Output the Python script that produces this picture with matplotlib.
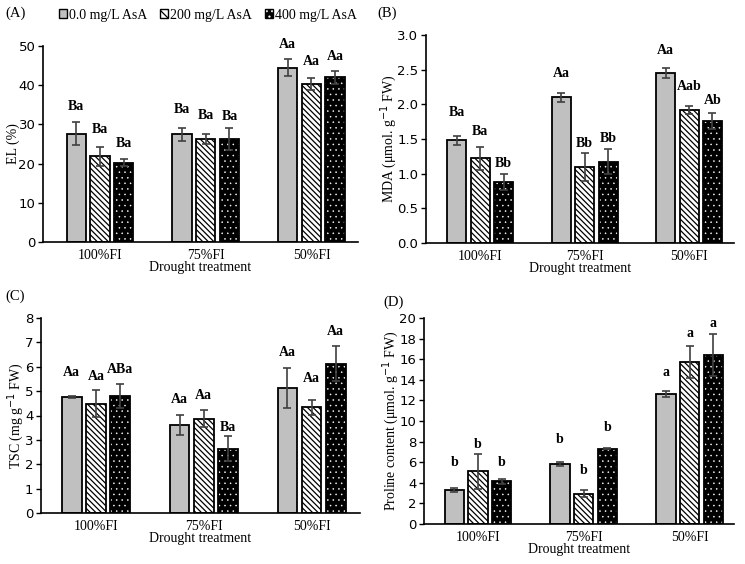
import matplotlib
matplotlib.use("Agg")
import matplotlib.pyplot as plt
import numpy as np
from matplotlib.patches import Patch
from matplotlib.legend_handler import HandlerTuple

plt.rcParams['hatch.linewidth'] = 0.9

categories = ["100%FI", "75%FI", "50%FI"]
series_names = ["0.0 mg/L AsA", "200 mg/L AsA", "400 mg/L AsA"]

# Panel A: EL (%)
el_vals = [[27.6, 27.5, 44.5], [21.9, 26.3, 40.3], [20.2, 26.3, 42.0]]
el_err = [[2.9, 1.7, 2.1], [2.4, 1.3, 1.5], [0.9, 2.9, 1.7]]
el_letters = [["Ba", "Ba", "Aa"], ["Ba", "Ba", "Aa"], ["Ba", "Ba", "Aa"]]
el_letter_y = [[34.5, 33.8, 50.4], [28.7, 32.2, 46.0], [25.1, 32.0, 47.3]]

# Panel B: MDA
mda_vals = [[1.48, 2.10, 2.45], [1.22, 1.10, 1.92], [0.88, 1.17, 1.76]]
mda_err = [[0.07, 0.07, 0.07], [0.16, 0.20, 0.06], [0.12, 0.18, 0.12]]
mda_letters = [["Ba", "Aa", "Aa"], ["Ba", "Bb", "Aab"], ["Bb", "Bb", "Ab"]]
mda_letter_y = [[1.88, 2.44, 2.77], [1.61, 1.43, 2.25], [1.14, 1.50, 2.06]]

# Panel C: TSC
tsc_vals = [[4.75, 3.61, 5.14], [4.49, 3.87, 4.34], [4.80, 2.64, 6.13]]
tsc_err = [[0.05, 0.40, 0.82], [0.56, 0.36, 0.30], [0.50, 0.50, 0.71]]
tsc_letters = [["Aa", "Aa", "Aa"], ["Aa", "Aa", "Aa"], ["ABa", "Ba", "Aa"]]
tsc_letter_y = [[5.75, 4.65, 6.57], [5.58, 4.83, 5.53], [5.87, 3.52, 7.43]]

# Panel D: Proline
pro_vals = [[3.30, 5.86, 12.62], [5.11, 2.94, 15.70], [4.14, 7.31, 16.44]]
pro_err = [[0.22, 0.20, 0.26], [1.70, 0.35, 1.55], [0.25, 0.03, 2.04]]
pro_letters = [["b", "b", "a"], ["b", "b", "a"], ["b", "b", "a"]]
pro_letter_y = [[5.99, 8.25, 14.72], [7.7, 5.18, 18.48], [6.0, 9.39, 19.45]]

panels = [
    dict(label="(A)", vals=el_vals, err=el_err, letters=el_letters, ly=el_letter_y,
         ylabel="EL (%)", ylim=(0, 50), yticks=np.arange(0, 51, 10), fmt="{:.0f}",
         rect=[43/745, 1-242/564, 315/745, 196/564], xlim=(-0.54, 2.44),
         plab=(5/745, 1-13/564)),
    dict(label="(B)", vals=mda_vals, err=mda_err, letters=mda_letters, ly=mda_letter_y,
         ylabel="MDA (μmol. g$^{-1}$ FW)", ylim=(0, 3.0), yticks=np.arange(0, 3.01, 0.5), fmt="{:.1f}",
         rect=[426/745, 1-243/564, 308/745, 208/564], xlim=(-0.52, 2.43),
         plab=(377/745, 1-13/564)),
    dict(label="(C)", vals=tsc_vals, err=tsc_err, letters=tsc_letters, ly=tsc_letter_y,
         ylabel="TSC (mg g$^{-1}$ FW)", ylim=(0, 8), yticks=np.arange(0, 9, 1), fmt="{:.0f}",
         rect=[41/745, 1-513/564, 319/745, 195/564], xlim=(-0.51, 2.45),
         plab=(5/745, 1-296/564)),
    dict(label="(D)", vals=pro_vals, err=pro_err, letters=pro_letters, ly=pro_letter_y,
         ylabel="Proline content (μmol. g$^{-1}$ FW)", ylim=(0, 20), yticks=np.arange(0, 21, 2), fmt="{:.0f}",
         rect=[424/745, 1-524/564, 310/745, 206/564], xlim=(-0.51, 2.42),
         plab=(383/745, 1-302/564)),
]

serif = "Liberation Serif"
fig = plt.figure(figsize=(7.45, 5.64), dpi=100)

width = 0.183
pitch = 0.224
gray = "#c0c0c0"
errc = "#404040"
x = np.arange(len(categories))

for p in panels:
    ax = fig.add_axes(p["rect"])
    for i in range(3):
        xs = x + (i - 1) * pitch
        if i == 0:
            ax.bar(xs, p["vals"][i], width, color=gray, edgecolor="black", linewidth=1.3, zorder=2)
        elif i == 1:
            ax.bar(xs, p["vals"][i], width, color="white", edgecolor="black", hatch="\\\\\\\\\\\\",
                   linewidth=1.3, zorder=2)
        else:
            with plt.rc_context({"hatch.linewidth": 0.35}):
                ax.bar(xs, p["vals"][i], width, color="black", edgecolor="white", hatch="...",
                       linewidth=0, zorder=2)
            ax.bar(xs, p["vals"][i], width, fill=False, edgecolor="black", linewidth=1.3, zorder=3)
        ax.errorbar(xs, p["vals"][i], yerr=p["err"][i], fmt="none", ecolor=errc,
                    elinewidth=1.2, capsize=3.2, capthick=1.2, zorder=4)
        for j in range(3):
            ax.text(xs[j], p["ly"][i][j], p["letters"][i][j], ha="center", va="center",
                    fontsize=10, fontweight="bold", family=serif)
    ax.set_xlim(*p["xlim"])
    ax.set_ylim(*p["ylim"])
    ax.set_yticks(p["yticks"])
    ax.set_yticklabels([p["fmt"].format(v) for v in p["yticks"]], fontsize=9.5, family="DejaVu Sans")
    ax.set_xticks(x)
    ax.set_xticklabels(categories, fontsize=10, family=serif)
    ax.tick_params(axis="x", length=0, pad=5)
    ax.tick_params(axis="y", length=3.5, width=1.0, direction="out", pad=2)
    for s in ["top", "right"]:
        ax.spines[s].set_visible(False)
    ax.spines["left"].set_linewidth(1.2)
    ax.spines["bottom"].set_linewidth(1.2)
    ax.set_xlabel("Drought treatment", fontsize=10, family=serif, labelpad=-1)
    ax.set_ylabel(p["ylabel"], fontsize=10, family=serif, labelpad=-1)
    fig.text(p["plab"][0], p["plab"][1], p["label"], fontsize=10.5, family=serif, va="center")

# legend
h0 = Patch(facecolor=gray, edgecolor="black", linewidth=1.0)
h1 = Patch(facecolor="white", edgecolor="black", hatch="\\\\\\\\", linewidth=1.0)
with plt.rc_context({"hatch.linewidth": 0.35}):
    h2a = Patch(facecolor="black", edgecolor="white", hatch="...", linewidth=0)
h2b = Patch(fill=False, edgecolor="black", linewidth=1.0)
fig.legend([h0, h1, (h2a, h2b)], series_names, loc="center",
           bbox_to_anchor=(208/745, 1-15/564), ncol=3, frameon=False,
           handlelength=0.6, handleheight=0.6, handletextpad=0.15, columnspacing=0.9,
           prop={"family": serif, "size": 10},
           handler_map={tuple: HandlerTuple(ndivide=1)})

fig.savefig("out.png", dpi=100)
